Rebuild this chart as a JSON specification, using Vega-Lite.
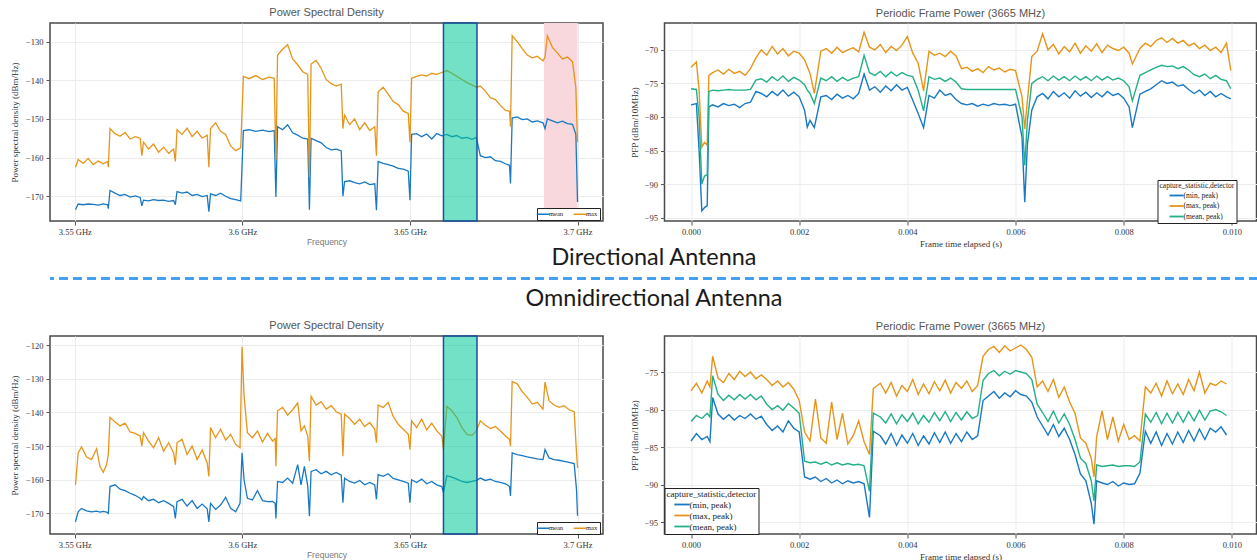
{
"$schema": "https://vega.github.io/schema/vega-lite/v6.json",
"background": "white",
"padding": {"left": 9, "top": 6, "right": 0, "bottom": 0},
"spacing": -4,
"config": {
  "view": {"stroke": "#4a4a4a", "strokeWidth": 1.5},
  "axis": {"labelFont": "Liberation Serif", "labelFontSize": 8.5, "labelColor": "#333", "titleFont": "Liberation Serif", "titleFontSize": 9, "titleFontWeight": "normal", "titleColor": "#333", "gridColor": "#ececec", "domain": false, "tickColor": "#555", "tickSize": 4, "labelPadding": 2, "labelOverlap": false},
  "title": {"font": "Liberation Sans", "fontSize": 11, "fontWeight": "normal", "color": "#555", "offset": 4},
  "legend": {"labelFont": "Liberation Serif", "titleFont": "Liberation Serif", "titleFontWeight": "normal", "titleColor": "#222", "labelColor": "#222", "strokeColor": "#222", "fillColor": "white", "cornerRadius": 0}
},
"resolve": {"scale": {"x": "independent", "y": "independent", "color": "independent"}, "legend": {"color": "independent"}},
"datasets": {
"psdD": [
{"f":3.5502,"mean":-173.5,"max":-162.5},{"f":3.5510,"mean":-172.0,"max":-160.5},{"f":3.5525,"mean":-172.2,"max":-161.5},{"f":3.5540,"mean":-172.0,"max":-160.2},{"f":3.5555,"mean":-172.1,"max":-161.8},{"f":3.5570,"mean":-172.3,"max":-160.9},{"f":3.5585,"mean":-172.0,"max":-161.6},{"f":3.5598,"mean":-172.2,"max":-161.0},
{"f":3.5600,"mean":-173.2,"max":-162.5},{"f":3.5605,"mean":-168.5,"max":-152.5},{"f":3.5620,"mean":-169.2,"max":-153.8},{"f":3.5635,"mean":-169.8,"max":-154.5},{"f":3.5650,"mean":-169.5,"max":-153.5},{"f":3.5665,"mean":-170.2,"max":-155.2},{"f":3.5680,"mean":-169.9,"max":-154.6},{"f":3.5695,"mean":-170.3,"max":-155.0},
{"f":3.5700,"mean":-172.5,"max":-159.5},{"f":3.5705,"mean":-171.0,"max":-156.0},{"f":3.5720,"mean":-171.2,"max":-157.8},{"f":3.5735,"mean":-170.9,"max":-156.5},{"f":3.5750,"mean":-171.1,"max":-158.6},{"f":3.5765,"mean":-171.0,"max":-157.3},{"f":3.5780,"mean":-171.3,"max":-158.9},{"f":3.5795,"mean":-171.1,"max":-157.8},
{"f":3.5800,"mean":-172.2,"max":-161.0},{"f":3.5805,"mean":-168.8,"max":-152.8},{"f":3.5820,"mean":-169.2,"max":-154.0},{"f":3.5835,"mean":-168.9,"max":-152.4},{"f":3.5850,"mean":-169.8,"max":-154.6},{"f":3.5865,"mean":-169.5,"max":-153.2},{"f":3.5880,"mean":-170.1,"max":-155.0},{"f":3.5895,"mean":-169.8,"max":-154.2},
{"f":3.5900,"mean":-174.0,"max":-162.5},{"f":3.5905,"mean":-169.4,"max":-152.5},{"f":3.5920,"mean":-169.8,"max":-151.0},{"f":3.5935,"mean":-169.2,"max":-153.2},{"f":3.5950,"mean":-170.0,"max":-154.0},{"f":3.5965,"mean":-170.6,"max":-157.0},{"f":3.5980,"mean":-170.9,"max":-158.2},{"f":3.5995,"mean":-171.2,"max":-157.5},
{"f":3.6003,"mean":-153.0,"max":-139.0},{"f":3.6020,"mean":-152.8,"max":-139.6},{"f":3.6040,"mean":-153.2,"max":-138.8},{"f":3.6060,"mean":-152.9,"max":-139.8},{"f":3.6080,"mean":-153.3,"max":-139.2},{"f":3.6095,"mean":-153.0,"max":-139.5},
{"f":3.6100,"mean":-170.2,"max":-160.5},{"f":3.6105,"mean":-152.0,"max":-133.5},{"f":3.6120,"mean":-152.8,"max":-132.0},{"f":3.6135,"mean":-151.5,"max":-130.8},{"f":3.6150,"mean":-153.6,"max":-134.5},{"f":3.6165,"mean":-154.2,"max":-136.0},{"f":3.6180,"mean":-155.0,"max":-137.8},{"f":3.6195,"mean":-155.2,"max":-138.5},
{"f":3.6200,"mean":-173.5,"max":-165.0},{"f":3.6205,"mean":-155.0,"max":-135.8},{"f":3.6220,"mean":-155.6,"max":-134.9},{"f":3.6235,"mean":-156.2,"max":-136.9},{"f":3.6250,"mean":-157.4,"max":-139.8},{"f":3.6265,"mean":-158.0,"max":-140.9},{"f":3.6280,"mean":-157.8,"max":-141.5},{"f":3.6295,"mean":-158.3,"max":-141.0},
{"f":3.6300,"mean":-170.0,"max":-152.5},{"f":3.6305,"mean":-166.2,"max":-149.0},{"f":3.6320,"mean":-166.0,"max":-151.5},{"f":3.6335,"mean":-166.5,"max":-150.0},{"f":3.6350,"mean":-166.8,"max":-152.8},{"f":3.6365,"mean":-166.3,"max":-151.0},{"f":3.6380,"mean":-167.0,"max":-153.0},{"f":3.6395,"mean":-166.8,"max":-152.0},
{"f":3.6400,"mean":-173.6,"max":-159.5},{"f":3.6405,"mean":-161.0,"max":-143.0},{"f":3.6420,"mean":-161.5,"max":-141.8},{"f":3.6435,"mean":-161.8,"max":-143.6},{"f":3.6450,"mean":-162.2,"max":-145.5},{"f":3.6465,"mean":-162.8,"max":-146.3},{"f":3.6480,"mean":-163.0,"max":-148.0},{"f":3.6495,"mean":-163.5,"max":-148.6},
{"f":3.6500,"mean":-171.0,"max":-156.0},{"f":3.6505,"mean":-154.0,"max":-139.5},{"f":3.6520,"mean":-153.8,"max":-139.0},{"f":3.6535,"mean":-154.6,"max":-138.6},{"f":3.6550,"mean":-153.9,"max":-138.9},{"f":3.6565,"mean":-155.2,"max":-138.2},{"f":3.6580,"mean":-153.8,"max":-138.5},{"f":3.6595,"mean":-154.4,"max":-138.0},
{"f":3.6610,"mean":-154.0,"max":-137.5},{"f":3.6625,"mean":-154.6,"max":-138.2},{"f":3.6640,"mean":-154.3,"max":-139.0},{"f":3.6655,"mean":-155.0,"max":-139.8},{"f":3.6670,"mean":-154.8,"max":-140.6},{"f":3.6685,"mean":-155.3,"max":-141.2},{"f":3.6698,"mean":-154.8,"max":-141.8},
{"f":3.6710,"mean":-159.5,"max":-141.5},{"f":3.6725,"mean":-160.0,"max":-142.8},{"f":3.6740,"mean":-159.8,"max":-144.5},{"f":3.6755,"mean":-160.8,"max":-145.0},{"f":3.6770,"mean":-161.0,"max":-146.5},{"f":3.6785,"mean":-161.6,"max":-147.8},{"f":3.6797,"mean":-162.0,"max":-148.0},
{"f":3.6800,"mean":-166.7,"max":-152.0},{"f":3.6805,"mean":-149.8,"max":-128.5},{"f":3.6820,"mean":-149.5,"max":-130.0},{"f":3.6835,"mean":-150.2,"max":-131.8},{"f":3.6850,"mean":-150.0,"max":-133.5},{"f":3.6865,"mean":-150.8,"max":-134.2},{"f":3.6880,"mean":-150.5,"max":-133.8},{"f":3.6897,"mean":-151.0,"max":-135.0},
{"f":3.6903,"mean":-152.5,"max":-134.0},{"f":3.6910,"mean":-150.0,"max":-128.5},{"f":3.6925,"mean":-150.5,"max":-131.5},{"f":3.6940,"mean":-151.0,"max":-133.0},{"f":3.6955,"mean":-150.6,"max":-134.5},{"f":3.6970,"mean":-151.2,"max":-134.0},{"f":3.6985,"mean":-151.4,"max":-135.2},{"f":3.6995,"mean":-154.0,"max":-142.0},{"f":3.7000,"mean":-171.5,"max":-156.0}
],
"psdO": [
{"f":3.5502,"mean":-172.5,"max":-161.5},{"f":3.5510,"mean":-169.5,"max":-152.0},{"f":3.5520,"mean":-168.5,"max":-150.2},{"f":3.5535,"mean":-169.2,"max":-153.2},{"f":3.5550,"mean":-169.5,"max":-154.0},{"f":3.5565,"mean":-169.3,"max":-150.8},{"f":3.5575,"mean":-169.6,"max":-156.0},{"f":3.5585,"mean":-169.4,"max":-157.8},{"f":3.5595,"mean":-169.6,"max":-155.5},
{"f":3.5600,"mean":-170.0,"max":-152.5},{"f":3.5605,"mean":-162.0,"max":-141.5},{"f":3.5620,"mean":-161.5,"max":-142.8},{"f":3.5635,"mean":-162.8,"max":-144.0},{"f":3.5650,"mean":-163.2,"max":-143.2},{"f":3.5665,"mean":-164.0,"max":-145.8},{"f":3.5680,"mean":-164.6,"max":-146.2},{"f":3.5695,"mean":-165.5,"max":-147.0},
{"f":3.5700,"mean":-166.0,"max":-150.0},{"f":3.5705,"mean":-165.0,"max":-146.0},{"f":3.5720,"mean":-166.2,"max":-148.5},{"f":3.5735,"mean":-165.8,"max":-150.5},{"f":3.5750,"mean":-166.8,"max":-147.5},{"f":3.5765,"mean":-166.2,"max":-151.5},{"f":3.5780,"mean":-167.0,"max":-149.0},{"f":3.5795,"mean":-168.0,"max":-152.0},
{"f":3.5800,"mean":-171.5,"max":-155.5},{"f":3.5805,"mean":-166.5,"max":-149.0},{"f":3.5820,"mean":-165.8,"max":-148.0},{"f":3.5835,"mean":-167.8,"max":-152.5},{"f":3.5850,"mean":-166.2,"max":-150.0},{"f":3.5865,"mean":-168.5,"max":-154.0},{"f":3.5880,"mean":-167.2,"max":-151.2},{"f":3.5895,"mean":-168.6,"max":-155.0},
{"f":3.5900,"mean":-172.5,"max":-159.0},{"f":3.5905,"mean":-167.0,"max":-144.5},{"f":3.5920,"mean":-168.8,"max":-147.5},{"f":3.5935,"mean":-167.5,"max":-145.0},{"f":3.5950,"mean":-165.2,"max":-148.2},{"f":3.5965,"mean":-168.5,"max":-146.5},{"f":3.5980,"mean":-169.5,"max":-149.5},{"f":3.5993,"mean":-167.0,"max":-150.5},
{"f":3.5999,"mean":-152.0,"max":-120.5},{"f":3.6005,"mean":-160.0,"max":-135.0},{"f":3.6015,"mean":-165.5,"max":-146.0},{"f":3.6030,"mean":-166.0,"max":-147.5},{"f":3.6045,"mean":-163.2,"max":-145.5},{"f":3.6060,"mean":-166.2,"max":-148.8},{"f":3.6075,"mean":-166.5,"max":-146.2},{"f":3.6090,"mean":-166.4,"max":-148.5},{"f":3.6098,"mean":-167.0,"max":-147.8},
{"f":3.6100,"mean":-171.5,"max":-156.0},{"f":3.6105,"mean":-160.5,"max":-139.5},{"f":3.6120,"mean":-160.8,"max":-138.5},{"f":3.6135,"mean":-159.5,"max":-140.8},{"f":3.6150,"mean":-161.0,"max":-139.2},{"f":3.6165,"mean":-155.5,"max":-137.2},{"f":3.6175,"mean":-161.5,"max":-145.5},{"f":3.6185,"mean":-156.0,"max":-144.0},{"f":3.6195,"mean":-161.8,"max":-147.0},
{"f":3.6200,"mean":-170.8,"max":-154.5},{"f":3.6205,"mean":-157.5,"max":-135.2},{"f":3.6220,"mean":-157.0,"max":-137.8},{"f":3.6235,"mean":-158.2,"max":-136.8},{"f":3.6250,"mean":-157.5,"max":-139.0},{"f":3.6265,"mean":-158.5,"max":-138.0},{"f":3.6280,"mean":-157.8,"max":-139.8},{"f":3.6295,"mean":-158.6,"max":-140.5},
{"f":3.6300,"mean":-166.8,"max":-153.0},{"f":3.6305,"mean":-159.5,"max":-140.5},{"f":3.6320,"mean":-160.5,"max":-141.8},{"f":3.6335,"mean":-161.0,"max":-143.5},{"f":3.6350,"mean":-160.2,"max":-142.0},{"f":3.6365,"mean":-161.5,"max":-144.2},{"f":3.6380,"mean":-160.8,"max":-143.0},{"f":3.6395,"mean":-161.5,"max":-145.0},
{"f":3.6400,"mean":-165.8,"max":-149.0},{"f":3.6405,"mean":-158.5,"max":-137.8},{"f":3.6420,"mean":-159.0,"max":-138.5},{"f":3.6435,"mean":-158.2,"max":-137.0},{"f":3.6450,"mean":-159.6,"max":-141.2},{"f":3.6465,"mean":-160.0,"max":-143.5},{"f":3.6480,"mean":-160.5,"max":-145.0},{"f":3.6495,"mean":-161.0,"max":-146.5},
{"f":3.6500,"mean":-166.8,"max":-151.0},{"f":3.6505,"mean":-160.0,"max":-142.5},{"f":3.6520,"mean":-160.8,"max":-144.5},{"f":3.6535,"mean":-159.8,"max":-142.0},{"f":3.6550,"mean":-161.2,"max":-145.2},{"f":3.6565,"mean":-160.5,"max":-143.2},{"f":3.6580,"mean":-161.5,"max":-145.5},{"f":3.6595,"mean":-162.0,"max":-147.0},
{"f":3.6600,"mean":-163.8,"max":-151.0},{"f":3.6610,"mean":-158.8,"max":-138.2},{"f":3.6625,"mean":-159.2,"max":-139.5},{"f":3.6640,"mean":-159.8,"max":-141.5},{"f":3.6655,"mean":-160.5,"max":-144.5},{"f":3.6670,"mean":-160.8,"max":-146.5},{"f":3.6685,"mean":-160.5,"max":-146.8},{"f":3.6698,"mean":-160.2,"max":-145.5},
{"f":3.6710,"mean":-159.5,"max":-142.5},{"f":3.6725,"mean":-160.2,"max":-143.8},{"f":3.6740,"mean":-159.8,"max":-144.8},{"f":3.6755,"mean":-160.5,"max":-144.2},{"f":3.6770,"mean":-160.8,"max":-145.5},{"f":3.6785,"mean":-161.2,"max":-147.0},{"f":3.6797,"mean":-162.0,"max":-148.0},
{"f":3.6800,"mean":-164.8,"max":-150.0},{"f":3.6805,"mean":-152.0,"max":-130.8},{"f":3.6820,"mean":-152.5,"max":-131.5},{"f":3.6835,"mean":-152.8,"max":-133.8},{"f":3.6850,"mean":-153.2,"max":-135.5},{"f":3.6865,"mean":-153.5,"max":-137.5},{"f":3.6880,"mean":-153.8,"max":-137.0},{"f":3.6897,"mean":-154.0,"max":-139.0},
{"f":3.6903,"mean":-151.0,"max":-131.0},{"f":3.6915,"mean":-153.5,"max":-136.5},{"f":3.6930,"mean":-154.0,"max":-137.8},{"f":3.6945,"mean":-154.2,"max":-138.5},{"f":3.6960,"mean":-154.5,"max":-138.0},{"f":3.6975,"mean":-154.8,"max":-139.2},{"f":3.6990,"mean":-155.2,"max":-139.8},{"f":3.6997,"mean":-163.0,"max":-152.0},{"f":3.7000,"mean":-170.7,"max":-156.5}
],
"ppfD": [
{"t":0.0000,"min":-78.2,"max":-72.6,"mean":-75.8},{"t":0.0001,"min":-78.0,"max":-71.8,"mean":-75.9},{"t":0.00015,"min":-85.0,"max":-76.0,"mean":-80.0},{"t":0.0002,"min":-94.0,"max":-84.5,"mean":-90.0},{"t":0.00025,"min":-93.5,"max":-83.8,"mean":-88.8},{"t":0.0003,"min":-93.2,"max":-84.2,"mean":-88.6},{"t":0.00033,"min":-78.5,"max":-73.8,"mean":-76.2},
{"t":0.0004,"min":-78.2,"max":-73.4,"mean":-76.0},{"t":0.0005,"min":-78.5,"max":-73.0,"mean":-76.1},{"t":0.0006,"min":-78.0,"max":-73.6,"mean":-76.0},{"t":0.0007,"min":-78.3,"max":-72.9,"mean":-75.9},{"t":0.0008,"min":-78.1,"max":-73.5,"mean":-76.0},{"t":0.0009,"min":-78.6,"max":-73.2,"mean":-76.0},{"t":0.0010,"min":-78.0,"max":-73.8,"mean":-76.0},{"t":0.0011,"min":-77.8,"max":-72.8,"mean":-75.9},
{"t":0.0012,"min":-76.2,"max":-71.2,"mean":-74.5},{"t":0.0013,"min":-76.5,"max":-70.0,"mean":-74.3},{"t":0.0014,"min":-77.0,"max":-70.8,"mean":-74.8},{"t":0.0015,"min":-76.2,"max":-69.5,"mean":-74.0},{"t":0.0016,"min":-76.8,"max":-70.6,"mean":-74.6},{"t":0.0017,"min":-76.0,"max":-69.8,"mean":-73.9},{"t":0.0018,"min":-76.9,"max":-70.9,"mean":-74.7},{"t":0.0019,"min":-76.3,"max":-70.2,"mean":-74.1},{"t":0.0020,"min":-77.0,"max":-70.5,"mean":-74.5},
{"t":0.0021,"min":-79.0,"max":-71.5,"mean":-75.2},{"t":0.00215,"min":-81.5,"max":-72.5,"mean":-76.0},{"t":0.0022,"min":-80.5,"max":-73.5,"mean":-76.5},{"t":0.00228,"min":-81.6,"max":-76.5,"mean":-78.0},
{"t":0.0024,"min":-77.0,"max":-70.2,"mean":-74.2},{"t":0.0025,"min":-76.8,"max":-69.8,"mean":-74.6},{"t":0.0026,"min":-77.4,"max":-70.5,"mean":-74.0},{"t":0.0027,"min":-76.6,"max":-69.6,"mean":-74.7},{"t":0.0028,"min":-77.2,"max":-70.4,"mean":-74.1},{"t":0.0029,"min":-76.8,"max":-70.0,"mean":-74.6},{"t":0.0030,"min":-77.3,"max":-69.7,"mean":-74.2},{"t":0.0031,"min":-76.5,"max":-70.3,"mean":-74.0},
{"t":0.0032,"min":-73.6,"max":-67.4,"mean":-70.8},{"t":0.0033,"min":-76.0,"max":-69.6,"mean":-73.4},{"t":0.0034,"min":-75.5,"max":-70.0,"mean":-73.8},{"t":0.0035,"min":-76.3,"max":-69.2,"mean":-73.2},{"t":0.0036,"min":-75.4,"max":-70.4,"mean":-74.0},{"t":0.0037,"min":-76.1,"max":-69.5,"mean":-73.3},{"t":0.0038,"min":-75.2,"max":-70.1,"mean":-73.9},{"t":0.0039,"min":-76.0,"max":-69.3,"mean":-73.4},{"t":0.0040,"min":-75.6,"max":-68.0,"mean":-73.8},
{"t":0.0041,"min":-77.5,"max":-70.5,"mean":-74.0},{"t":0.0042,"min":-79.5,"max":-72.0,"mean":-76.0},{"t":0.0043,"min":-81.6,"max":-76.1,"mean":-79.1},{"t":0.0044,"min":-76.8,"max":-70.2,"mean":-74.0},{"t":0.0045,"min":-77.2,"max":-70.8,"mean":-74.4},{"t":0.0046,"min":-76.0,"max":-70.5,"mean":-74.2},{"t":0.0047,"min":-76.8,"max":-71.0,"mean":-74.7},{"t":0.0048,"min":-76.5,"max":-70.2,"mean":-74.2},{"t":0.0049,"min":-77.4,"max":-70.9,"mean":-74.8},
{"t":0.0050,"min":-78.0,"max":-72.8,"mean":-75.8},{"t":0.0051,"min":-78.2,"max":-72.6,"mean":-75.9},{"t":0.0052,"min":-78.0,"max":-73.2,"mean":-75.9},{"t":0.0053,"min":-78.4,"max":-72.8,"mean":-75.9},{"t":0.0054,"min":-78.1,"max":-73.4,"mean":-75.9},{"t":0.0055,"min":-78.3,"max":-72.5,"mean":-75.9},{"t":0.0056,"min":-78.0,"max":-73.0,"mean":-75.9},{"t":0.0057,"min":-78.2,"max":-72.7,"mean":-75.9},{"t":0.0058,"min":-78.1,"max":-73.3,"mean":-75.9},{"t":0.0059,"min":-78.3,"max":-72.9,"mean":-75.9},{"t":0.0060,"min":-78.1,"max":-73.1,"mean":-75.9},
{"t":0.00612,"min":-83.0,"max":-77.0,"mean":-80.0},{"t":0.00617,"min":-92.7,"max":-81.8,"mean":-87.2},{"t":0.00622,"min":-84.0,"max":-77.5,"mean":-80.5},{"t":0.0063,"min":-79.0,"max":-71.0,"mean":-75.0},
{"t":0.0064,"min":-77.0,"max":-70.2,"mean":-74.4},{"t":0.0065,"min":-76.5,"max":-67.6,"mean":-74.0},{"t":0.0066,"min":-77.3,"max":-70.0,"mean":-74.6},{"t":0.0067,"min":-76.2,"max":-69.2,"mean":-73.9},{"t":0.0068,"min":-77.0,"max":-70.6,"mean":-74.5},{"t":0.0069,"min":-76.4,"max":-69.5,"mean":-74.0},{"t":0.0070,"min":-77.2,"max":-70.3,"mean":-74.6},{"t":0.0071,"min":-76.1,"max":-69.0,"mean":-73.9},{"t":0.0072,"min":-76.9,"max":-70.5,"mean":-74.5},{"t":0.0073,"min":-76.3,"max":-69.4,"mean":-74.0},{"t":0.0074,"min":-77.1,"max":-70.2,"mean":-74.6},{"t":0.0075,"min":-76.4,"max":-69.1,"mean":-73.9},{"t":0.0076,"min":-77.0,"max":-70.4,"mean":-74.5},{"t":0.0077,"min":-76.2,"max":-69.3,"mean":-74.0},{"t":0.0078,"min":-76.8,"max":-69.8,"mean":-74.5},{"t":0.0079,"min":-76.5,"max":-70.1,"mean":-74.2},{"t":0.0080,"min":-77.2,"max":-69.6,"mean":-74.6},
{"t":0.0081,"min":-78.5,"max":-70.5,"mean":-75.5},{"t":0.00816,"min":-81.6,"max":-72.1,"mean":-77.6},{"t":0.0083,"min":-76.6,"max":-69.8,"mean":-73.8},{"t":0.0084,"min":-76.2,"max":-69.0,"mean":-73.4},{"t":0.0085,"min":-75.8,"max":-69.5,"mean":-73.0},{"t":0.0086,"min":-75.2,"max":-68.6,"mean":-72.6},{"t":0.0087,"min":-74.6,"max":-68.2,"mean":-72.3},{"t":0.0088,"min":-75.0,"max":-68.9,"mean":-72.5},{"t":0.0089,"min":-74.8,"max":-68.3,"mean":-72.4},{"t":0.0090,"min":-75.4,"max":-69.0,"mean":-72.8},{"t":0.0091,"min":-75.2,"max":-68.6,"mean":-72.5},{"t":0.0092,"min":-75.9,"max":-69.4,"mean":-73.0},{"t":0.0093,"min":-76.5,"max":-69.0,"mean":-73.7},{"t":0.0094,"min":-76.0,"max":-69.8,"mean":-74.0},{"t":0.0095,"min":-76.8,"max":-69.3,"mean":-73.6},{"t":0.0096,"min":-76.2,"max":-70.1,"mean":-74.3},{"t":0.0097,"min":-77.0,"max":-69.6,"mean":-73.8},{"t":0.0098,"min":-76.5,"max":-70.4,"mean":-74.4},{"t":0.0099,"min":-77.0,"max":-69.0,"mean":-74.6},{"t":0.00998,"min":-77.3,"max":-73.1,"mean":-75.8}
],
"ppfO": [
{"t":0.0000,"min":-84.2,"max":-77.5,"mean":-81.6},{"t":0.0001,"min":-83.2,"max":-76.5,"mean":-80.8},{"t":0.0002,"min":-84.0,"max":-77.8,"mean":-81.2},{"t":0.0003,"min":-83.6,"max":-76.2,"mean":-80.5},{"t":0.00035,"min":-84.3,"max":-77.0,"mean":-81.0},{"t":0.0004,"min":-78.4,"max":-72.9,"mean":-75.5},
{"t":0.0005,"min":-80.6,"max":-75.8,"mean":-78.0},{"t":0.0006,"min":-81.3,"max":-76.4,"mean":-78.8},{"t":0.0007,"min":-80.7,"max":-75.2,"mean":-78.1},{"t":0.0008,"min":-81.4,"max":-76.0,"mean":-78.7},{"t":0.0009,"min":-80.8,"max":-74.9,"mean":-78.0},{"t":0.0010,"min":-81.2,"max":-75.6,"mean":-78.6},{"t":0.0011,"min":-80.6,"max":-75.0,"mean":-78.0},{"t":0.0012,"min":-81.3,"max":-75.9,"mean":-78.7},{"t":0.0013,"min":-80.9,"max":-75.4,"mean":-78.2},
{"t":0.0014,"min":-82.0,"max":-76.0,"mean":-79.3},{"t":0.0015,"min":-82.8,"max":-76.8,"mean":-80.0},{"t":0.0016,"min":-82.2,"max":-76.2,"mean":-79.5},{"t":0.0017,"min":-83.0,"max":-77.0,"mean":-80.1},{"t":0.0018,"min":-81.5,"max":-76.4,"mean":-79.2},{"t":0.0019,"min":-82.5,"max":-77.3,"mean":-79.8},{"t":0.0020,"min":-83.0,"max":-78.8,"mean":-80.5},
{"t":0.0021,"min":-89.0,"max":-83.0,"mean":-86.9},{"t":0.0022,"min":-89.3,"max":-84.2,"mean":-87.1},{"t":0.0023,"min":-89.0,"max":-78.6,"mean":-87.0},{"t":0.0024,"min":-89.6,"max":-83.8,"mean":-87.3},{"t":0.0025,"min":-89.2,"max":-84.5,"mean":-87.0},{"t":0.0026,"min":-89.8,"max":-79.0,"mean":-87.4},{"t":0.0027,"min":-89.4,"max":-84.0,"mean":-87.1},{"t":0.0028,"min":-89.9,"max":-80.5,"mean":-87.4},{"t":0.0029,"min":-89.5,"max":-84.6,"mean":-87.2},{"t":0.0030,"min":-89.8,"max":-83.5,"mean":-87.4},{"t":0.0031,"min":-89.6,"max":-81.5,"mean":-87.3},{"t":0.0032,"min":-89.9,"max":-84.3,"mean":-87.5},
{"t":0.0033,"min":-94.4,"max":-86.0,"mean":-90.9},{"t":0.00337,"min":-82.9,"max":-77.2,"mean":-80.5},{"t":0.0035,"min":-83.5,"max":-76.5,"mean":-81.0},{"t":0.0036,"min":-84.6,"max":-77.8,"mean":-81.8},{"t":0.0037,"min":-83.2,"max":-76.4,"mean":-80.6},{"t":0.0038,"min":-84.8,"max":-78.2,"mean":-81.9},{"t":0.0039,"min":-83.4,"max":-76.8,"mean":-80.7},{"t":0.0040,"min":-84.5,"max":-77.6,"mean":-81.6},{"t":0.0041,"min":-83.2,"max":-76.0,"mean":-80.5},{"t":0.0042,"min":-84.8,"max":-78.0,"mean":-81.9},{"t":0.0043,"min":-83.5,"max":-76.6,"mean":-80.8},{"t":0.0044,"min":-84.6,"max":-77.9,"mean":-81.7},{"t":0.0045,"min":-83.1,"max":-76.3,"mean":-80.4},{"t":0.0046,"min":-84.4,"max":-77.5,"mean":-81.5},{"t":0.0047,"min":-83.0,"max":-76.1,"mean":-80.3},{"t":0.0048,"min":-84.5,"max":-77.8,"mean":-81.6},{"t":0.0049,"min":-83.2,"max":-76.4,"mean":-80.4},{"t":0.0050,"min":-84.3,"max":-77.2,"mean":-81.4},{"t":0.0051,"min":-83.0,"max":-76.2,"mean":-80.3},{"t":0.0052,"min":-84.0,"max":-77.6,"mean":-81.2},{"t":0.0053,"min":-83.5,"max":-76.8,"mean":-80.8},
{"t":0.0054,"min":-78.8,"max":-72.9,"mean":-76.1},{"t":0.0055,"min":-78.2,"max":-72.0,"mean":-75.2},{"t":0.0056,"min":-77.6,"max":-71.6,"mean":-74.8},{"t":0.0057,"min":-78.5,"max":-72.4,"mean":-75.5},{"t":0.0058,"min":-77.8,"max":-71.5,"mean":-74.9},{"t":0.0059,"min":-78.3,"max":-72.2,"mean":-75.3},{"t":0.0060,"min":-77.5,"max":-71.8,"mean":-74.8},{"t":0.0061,"min":-78.0,"max":-71.4,"mean":-75.0},{"t":0.0062,"min":-78.2,"max":-72.0,"mean":-75.2},{"t":0.0063,"min":-79.0,"max":-73.0,"mean":-76.0},
{"t":0.0064,"min":-81.0,"max":-77.0,"mean":-79.3},{"t":0.0065,"min":-82.2,"max":-76.2,"mean":-80.4},{"t":0.0066,"min":-83.4,"max":-77.6,"mean":-81.6},{"t":0.0067,"min":-82.0,"max":-76.0,"mean":-80.2},{"t":0.0068,"min":-83.6,"max":-78.4,"mean":-81.8},{"t":0.0069,"min":-82.5,"max":-77.0,"mean":-80.6},{"t":0.0070,"min":-84.0,"max":-79.0,"mean":-82.0},
{"t":0.0071,"min":-86.0,"max":-80.5,"mean":-84.0},{"t":0.0072,"min":-88.6,"max":-83.8,"mean":-86.5},{"t":0.0073,"min":-89.5,"max":-84.5,"mean":-87.2},{"t":0.0074,"min":-92.5,"max":-86.5,"mean":-89.5},{"t":0.00745,"min":-95.3,"max":-89.0,"mean":-92.2},
{"t":0.0075,"min":-89.5,"max":-83.6,"mean":-87.4},{"t":0.0076,"min":-89.8,"max":-80.2,"mean":-87.6},{"t":0.0077,"min":-90.0,"max":-84.0,"mean":-87.5},{"t":0.0078,"min":-89.6,"max":-81.0,"mean":-87.4},{"t":0.0079,"min":-90.2,"max":-84.2,"mean":-87.6},{"t":0.0080,"min":-89.8,"max":-82.0,"mean":-87.5},{"t":0.0081,"min":-90.0,"max":-84.0,"mean":-87.5},{"t":0.0082,"min":-89.9,"max":-83.5,"mean":-87.6},{"t":0.0083,"min":-88.5,"max":-84.2,"mean":-87.0},
{"t":0.0084,"min":-82.9,"max":-77.0,"mean":-80.6},{"t":0.0085,"min":-84.5,"max":-77.8,"mean":-81.7},{"t":0.0086,"min":-83.0,"max":-76.5,"mean":-80.4},{"t":0.0087,"min":-84.8,"max":-78.2,"mean":-81.9},{"t":0.0088,"min":-83.2,"max":-76.2,"mean":-80.5},{"t":0.0089,"min":-84.6,"max":-77.9,"mean":-81.8},{"t":0.0090,"min":-83.0,"max":-76.6,"mean":-80.4},{"t":0.0091,"min":-84.4,"max":-78.0,"mean":-81.7},{"t":0.0092,"min":-82.8,"max":-76.0,"mean":-80.3},{"t":0.0093,"min":-84.2,"max":-77.5,"mean":-81.5},{"t":0.0094,"min":-82.6,"max":-75.0,"mean":-80.1},{"t":0.0095,"min":-84.0,"max":-77.8,"mean":-81.4},{"t":0.0096,"min":-82.5,"max":-76.5,"mean":-80.2},{"t":0.0097,"min":-83.0,"max":-76.8,"mean":-80.0},{"t":0.0098,"min":-82.3,"max":-76.2,"mean":-80.3},{"t":0.0099,"min":-83.4,"max":-76.6,"mean":-80.8}
]
},
"vconcat": [
{
  "spacing": 25.5,
  "resolve": {"scale": {"x": "independent", "y": "independent", "color": "independent"}, "legend": {"color": "independent"}},
  "hconcat": [
    {
      "width": 553, "height": 198,
      "title": "Power Spectral Density",
      "layer": [
        {"data": {"values": [{"f": 3.69, "f2": 3.70}]}, "mark": {"type": "rect", "fill": "#f8d8dc"}, "encoding": {"x": {"field": "f", "type": "quantitative"}, "x2": {"field": "f2"}}},
        {"data": {"name": "psdD"}, "transform": [{"fold": ["mean", "max"], "as": ["stat", "value"]}],
         "mark": {"type": "line", "strokeWidth": 1.3},
         "encoding": {
           "x": {"field": "f", "type": "quantitative", "scale": {"domain": [3.5426, 3.7076], "nice": false, "zero": false},
                 "axis": {"title": "Frequency", "titleFont": "Liberation Sans", "titleColor": "#777", "titleFontSize": 8.5, "titlePadding": 2, "labelOverlap": false, "values": [3.55, 3.6, 3.65, 3.7],
                          "labelExpr": "format(datum.value, '.2~f') + ' GHz'"}},
           "y": {"field": "value", "type": "quantitative", "scale": {"domain": [-176.4, -125.2], "nice": false, "zero": false},
                 "axis": {"title": "Power spectral density (dBm/Hz)", "values": [-170,-160,-150,-140,-130], "labelOverlap": false, "labelPadding": 3, "minExtent": 26, "maxExtent": 26, "titlePadding": 5}},
           "color": {"field": "stat", "type": "nominal", "scale": {"domain": ["mean", "max"], "range": ["#1978c3", "#e6951a"]},
                     "legend": {"title": null, "orient": "none", "legendX": 487, "legendY": 185, "direction": "horizontal", "padding": 2, "labelFontSize": 6.5, "symbolType": "M-2,0H2", "symbolSize": 40, "symbolStrokeWidth": 1.5, "columnPadding": 6, "labelOffset": 2}},
           "detail": {"field": "stat"}
         }},
        {"data": {"values": [{"f": 3.66, "f2": 3.67}]}, "mark": {"type": "rect", "fill": "#00c896", "fillOpacity": 0.55, "stroke": "#1b4fa0", "strokeWidth": 1.5}, "encoding": {"x": {"field": "f", "type": "quantitative"}, "x2": {"field": "f2"}}}
      ]
    },
    {
      "width": 592, "height": 198,
      "title": "Periodic Frame Power (3665 MHz)",
      "data": {"name": "ppfD"},
      "transform": [{"fold": ["min", "max", "mean"], "as": ["capture", "value"]}],
      "mark": {"type": "line", "strokeWidth": 1.4},
      "encoding": {
        "x": {"field": "t", "type": "quantitative", "scale": {"domain": [-0.00049, 0.010455], "nice": false, "zero": false},
              "axis": {"title": "Frame time elapsed (s)", "values": [0, 0.002, 0.004, 0.006, 0.008, 0.01], "format": ".3f", "titlePadding": 4, "labelOverlap": false}},
        "y": {"field": "value", "type": "quantitative", "scale": {"domain": [-95.5, -66.0], "nice": false, "zero": false},
              "axis": {"title": "PFP (dBm/10MHz)", "values": [-95,-90,-85,-80,-75,-70], "labelOverlap": false, "labelPadding": 3, "minExtent": 20, "maxExtent": 20, "titlePadding": 5}},
        "color": {"field": "capture", "type": "nominal", "scale": {"domain": ["min", "max", "mean"], "range": ["#1978c3", "#e6951a", "#23af87"]},
                  "legend": {"title": "capture_statistic,detector", "labelExpr": "'(' + datum.label + ', peak)'", "orient": "none", "legendX": 493, "legendY": 157, "padding": 2, "titleFontSize": 7.5, "labelFontSize": 7.5, "titlePadding": 1, "rowPadding": 1.5, "symbolOffset": 12, "symbolType": "M-1.8,0H1.8", "symbolSize": 60, "symbolStrokeWidth": 1.8, "labelOffset": 2}}
      }
    }
  ]
},
{
  "width": 1208, "height": 72,
  "view": {"stroke": null},
  "data": {"values": [{"label": "Directional Antenna"}, {"label": "Omnidirectional Antenna"}]},
  "encoding": {"y": {"field": "label", "type": "nominal", "scale": {"type": "point", "domain": ["Directional Antenna", "sep", "Omnidirectional Antenna"], "range": [7, 48], "padding": 0}, "axis": null}},
  "layer": [
    {"mark": {"type": "rule", "stroke": "#3d9df2", "strokeWidth": 2.5, "strokeDash": [9, 5]}, "encoding": {"y": {"datum": "sep", "type": "nominal"}}},
    {"mark": {"type": "text", "font": "Lato", "fontSize": 23.4, "color": "#1a1a1a"}, "encoding": {"text": {"field": "label"}}}
  ]
},
{
  "spacing": 25.5,
  "resolve": {"scale": {"x": "independent", "y": "independent", "color": "independent"}, "legend": {"color": "independent"}},
  "hconcat": [
    {
      "width": 553, "height": 198,
      "title": "Power Spectral Density",
      "layer": [
        {"data": {"name": "psdO"}, "transform": [{"fold": ["mean", "max"], "as": ["stat", "value"]}],
         "mark": {"type": "line", "strokeWidth": 1.3},
         "encoding": {
           "x": {"field": "f", "type": "quantitative", "scale": {"domain": [3.5426, 3.7076], "nice": false, "zero": false},
                 "axis": {"title": "Frequency", "titleFont": "Liberation Sans", "titleColor": "#777", "titleFontSize": 8.5, "titlePadding": 2, "labelOverlap": false, "values": [3.55, 3.6, 3.65, 3.7],
                          "labelExpr": "format(datum.value, '.2~f') + ' GHz'"}},
           "y": {"field": "value", "type": "quantitative", "scale": {"domain": [-176.1, -117.3], "nice": false, "zero": false},
                 "axis": {"title": "Power spectral density (dBm/Hz)", "values": [-170,-160,-150,-140,-130,-120], "labelOverlap": false, "labelPadding": 3, "minExtent": 26, "maxExtent": 26, "titlePadding": 5}},
           "color": {"field": "stat", "type": "nominal", "scale": {"domain": ["mean", "max"], "range": ["#1978c3", "#e6951a"]},
                     "legend": {"title": null, "orient": "none", "legendX": 487, "legendY": 186, "direction": "horizontal", "padding": 2, "labelFontSize": 6.5, "symbolType": "M-2,0H2", "symbolSize": 40, "symbolStrokeWidth": 1.5, "columnPadding": 6, "labelOffset": 2}},
           "detail": {"field": "stat"}
         }},
        {"data": {"values": [{"f": 3.66, "f2": 3.67}]}, "mark": {"type": "rect", "fill": "#00c896", "fillOpacity": 0.55, "stroke": "#1b4fa0", "strokeWidth": 1.5}, "encoding": {"x": {"field": "f", "type": "quantitative"}, "x2": {"field": "f2"}}}
      ]
    },
    {
      "width": 592, "height": 198,
      "title": "Periodic Frame Power (3665 MHz)",
      "data": {"name": "ppfO"},
      "transform": [{"fold": ["min", "max", "mean"], "as": ["capture", "value"]}],
      "mark": {"type": "line", "strokeWidth": 1.4},
      "encoding": {
        "x": {"field": "t", "type": "quantitative", "scale": {"domain": [-0.00049, 0.010455], "nice": false, "zero": false},
              "axis": {"title": "Frame time elapsed (s)", "values": [0, 0.002, 0.004, 0.006, 0.008, 0.01], "format": ".3f", "titlePadding": 4, "labelOverlap": false}},
        "y": {"field": "value", "type": "quantitative", "scale": {"domain": [-96.6, -70.2], "nice": false, "zero": false},
              "axis": {"title": "PFP (dBm/10MHz)", "values": [-95,-90,-85,-80,-75], "labelOverlap": false, "labelPadding": 3, "minExtent": 20, "maxExtent": 20, "titlePadding": 5}},
        "color": {"field": "capture", "type": "nominal", "scale": {"domain": ["min", "max", "mean"], "range": ["#1978c3", "#e6951a", "#23af87"]},
                  "legend": {"title": "capture_statistic,detector", "labelExpr": "'(' + datum.label + ', peak)'", "orient": "bottom-left", "offset": 0, "padding": 2, "titleFontSize": 9, "labelFontSize": 9, "titlePadding": 0, "rowPadding": 0, "symbolOffset": 10, "symbolType": "M-1.7,0H1.7", "symbolSize": 81, "symbolStrokeWidth": 1.8, "labelOffset": 2}}
      }
    }
  ]
}
]
}
